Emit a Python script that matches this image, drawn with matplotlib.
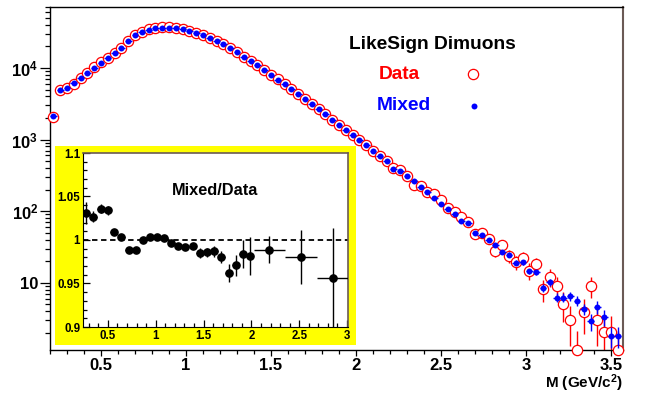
import numpy as np
import matplotlib
matplotlib.use("Agg")
import matplotlib.pyplot as plt
from matplotlib.ticker import (LogLocator, MultipleLocator, FuncFormatter,
                               NullFormatter)

plt.rcParams['font.family'] = ['Liberation Sans', 'DejaVu Sans']
plt.rcParams['font.weight'] = 'bold'
plt.rcParams['mathtext.fontset'] = 'custom'
plt.rcParams['mathtext.rm'] = 'Liberation Sans:bold'
plt.rcParams['mathtext.bf'] = 'Liberation Sans:bold'
plt.rcParams['mathtext.it'] = 'Liberation Sans:bold'

# ---- like-sign dimuon invariant mass spectra (0.04 GeV/c^2 bins) ----
mass = np.round(np.arange(0.22, 3.555, 0.04), 2)

mixed = [2110, 4990, 5320, 6250, 7240, 8610, 10120, 11900, 13800, 16000,
         19300, 23600, 28600, 31800, 34400, 35900, 36700, 36700, 35900, 34800,
         33000, 30900,
         28600, 26000, 23900, 21400, 18700, 16600, 14300, 12500, 10900, 9290,
         7980, 6880, 5920, 5040, 4290, 3650, 3100, 2640, 2250, 1860,
         1580, 1345, 1145, 975, 830, 684, 582, 500, 392, 359,
         305, 260, 217, 183, 154, 127, 108, 90, 74, 68, 50,
         47, 39, 34, 26.7, 24.8, 19, 19.4, 14.4, 14.0, 8.5,
         10.2, 6.2, 6.2, 6.5, 5.6, 4.3, 2.9, 4.6, 3.3, 1.83, 1.83]

data = [2050, 4850, 5170, 6050, 7150, 8560, 10150, 12000, 13800, 16000,
        19250, 23500, 28450, 31700, 34500, 36000, 36850, 36800, 35950, 34900,
        33200, 31100,
        28750, 26200, 24050, 21550, 18850, 16700, 14450, 12600, 11000, 9380,
        8060, 6950, 5990, 5110, 4330, 3720, 3180, 2700, 2280, 1890,
        1600, 1360, 1170, 990, 840, 700, 590, 505, 400, 378,
        310, 235, 222, 185, 175, 141, 111, 97, 82, 70, 48,
        50, 41, 28, 34, 23.5, 19.4, 22.3, 14.8, 18, 8.2,
        12.2, 9.1, 5.1, 3.06, 1.15, 3.95, 9.1, 3.06, 2.03, 2.03, 1.15]

data_err = [0] * 60 + [9, 8.4, 7, 7, 6.4, 5.3, 5.8, 4.8, 4.4, 4.7, 3.8, 4.2,
                       2.9, 3.5, 3.0, 2.3, 1.75, 1.0, 2.0, 3.0, 1.75, 1.4, 1.4, 1.0]
mixed_err = [0] * 60 + [3.0, 2.9, 2.5, 2.4, 2.2, 2.0, 1.8, 1.75, 1.5, 1.5, 1.35, 1.3,
                        1.0, 1.1, 0.9, 0.9, 0.9, 0.85, 0.75, 0.8, 0.95, 0.85, 0.6, 0.6]
half_bin = 0.02

# ---- Mixed/Data ratio ----
ratio_x = [0.274, 0.347, 0.423, 0.50, 0.563, 0.639, 0.719, 0.792, 0.869, 0.939,
           1.015, 1.088, 1.162, 1.238, 1.311, 1.388, 1.458, 1.534, 1.611, 1.684,
           1.764, 1.837, 1.910, 1.983, 2.189, 2.52, 2.85]
ratio_xerr = [0.037] * 24 + [0.166, 0.166, 0.166]
ratio_y = [1.031, 1.027, 1.036, 1.034, 1.0095, 1.003, 0.988, 0.989, 1.000, 1.003,
           1.003, 1.002, 0.997, 0.993, 0.992, 0.993, 0.985, 0.986, 0.987, 0.980,
           0.962, 0.971, 0.984, 0.982, 0.989, 0.980, 0.956]
ratio_err = [0.0125, 0.006, 0.0055, 0.005, 0.003, 0.003, 0.002, 0.002, 0.003, 0.002,
             0.002, 0.002, 0.002, 0.003, 0.003, 0.003, 0.006, 0.005, 0.006, 0.007,
             0.010, 0.012, 0.016, 0.022, 0.016, 0.031, 0.058]

W, H = 645, 393
FRAME2 = '#6b5a55'
LEG_SIZE = 13.8

fig = plt.figure(figsize=(W / 100, H / 100), dpi=100)

# ---------------- main panel ----------------
ax = fig.add_axes([50 / W, 1 - 350 / H, 573 / W, 343 / H])
ax.set_yscale('log')
ax.set_xlim(0.2, 3.57)
ax.set_ylim(1.15, 7.1e4)

ax.errorbar(mass, data, yerr=data_err, fmt='none', ecolor='#ff0000',
            elinewidth=1.0, capsize=0, zorder=2)
ax.plot(mass, data, linestyle='none', marker='o', markersize=7.4,
        markerfacecolor='white', markeredgecolor='#ff0000', markeredgewidth=0.9,
        zorder=3, clip_on=False)
ax.errorbar(mass, mixed, yerr=mixed_err, xerr=half_bin, fmt='none',
            ecolor='#0000ff', elinewidth=1.0, capsize=0, zorder=4)
ax.plot(mass, mixed, linestyle='none', marker='o', markersize=4.3,
        markerfacecolor='#0000ff', markeredgecolor='#0000ff', markeredgewidth=0,
        zorder=5, clip_on=False)

ax.xaxis.set_major_locator(MultipleLocator(0.5))
ax.xaxis.set_minor_locator(MultipleLocator(0.1))
ax.xaxis.set_major_formatter(FuncFormatter(lambda v, p: f'{v:g}'))
ax.yaxis.set_major_locator(LogLocator(base=10, numticks=10))
ax.yaxis.set_minor_locator(LogLocator(base=10, subs=np.arange(2, 10), numticks=20))
ax.yaxis.set_minor_formatter(NullFormatter())


def log_label(v, p):
    e = int(round(np.log10(v)))
    if e == 1:
        return '10'
    return r'$10^{%d}$' % e


ax.yaxis.set_major_formatter(FuncFormatter(log_label))
ax.tick_params(axis='both', which='both', direction='out', width=0.9,
               colors='black', labelsize=12)
ax.tick_params(axis='y', which='major', length=7.5, pad=1)
ax.tick_params(axis='y', which='minor', length=3.6)
ax.tick_params(axis='x', which='major', length=4.5, pad=1.5)
ax.tick_params(axis='x', which='minor', length=2.8)
for s in ('left', 'bottom', 'top'):
    ax.spines[s].set_color('black')
    ax.spines[s].set_linewidth(1.0)
ax.spines['right'].set_color(FRAME2)
ax.spines['right'].set_linewidth(1.5)

ax.text(1.0, -0.0955, r'M (GeV/c$^{2}$)', transform=ax.transAxes,
        ha='right', va='center', fontsize=11.0, fontweight='bold')

ax.text(0.668, 0.891, 'LikeSign Dimuons', transform=ax.transAxes,
        ha='center', va='center', fontsize=LEG_SIZE, fontweight='bold', color='black')
ax.text(0.574, 0.802, 'Data', transform=ax.transAxes,
        ha='left', va='center', fontsize=LEG_SIZE, fontweight='bold', color='#ff0000')
ax.text(0.571, 0.714, 'Mixed', transform=ax.transAxes,
        ha='left', va='center', fontsize=LEG_SIZE, fontweight='bold', color='#0000ff')
ax.plot([0.738], [0.805], transform=ax.transAxes, linestyle='none', marker='o',
        markersize=7.4, markerfacecolor='white', markeredgecolor='#ff0000',
        markeredgewidth=0.9)
ax.plot([0.740], [0.711], transform=ax.transAxes, linestyle='none', marker='o',
        markersize=4.3, markerfacecolor='#0000ff', markeredgewidth=0)

# ---------------- inset: ratio ----------------
pad = fig.add_axes([55 / W, 1 - 345 / H, 301 / W, 199 / H])
pad.set_facecolor('#ffff00')
pad.set_xticks([])
pad.set_yticks([])
for s in pad.spines.values():
    s.set_visible(False)

ins = fig.add_axes([83 / W, 1 - 327 / H, 265 / W, 174 / H])
ins.set_facecolor('white')
ins.set_xlim(0.24, 3.01)
ins.set_ylim(0.9, 1.1)
ins.axhline(1.0, color='black', linestyle=(0, (3, 2)), linewidth=1.3, zorder=1)
ins.errorbar(ratio_x, ratio_y, yerr=ratio_err, xerr=ratio_xerr, fmt='o',
             color='black', markersize=5.2, elinewidth=1.0, capsize=0, zorder=3)
ins.text(0.5, 0.785, 'Mixed/Data', transform=ins.transAxes, ha='center',
         va='center', fontsize=11.8, fontweight='bold')

ins.xaxis.set_major_locator(MultipleLocator(0.5))
ins.xaxis.set_minor_locator(MultipleLocator(0.1))
ins.xaxis.set_major_formatter(FuncFormatter(lambda v, p: f'{v:g}'))
ins.yaxis.set_major_locator(MultipleLocator(0.05))
ins.yaxis.set_minor_locator(MultipleLocator(0.01))
ins.yaxis.set_major_formatter(FuncFormatter(lambda v, p: f'{v:g}'))
ins.tick_params(axis='both', which='both', direction='in', width=0.9,
                labelsize=8.3, colors='black')
ins.tick_params(axis='both', which='major', length=5, pad=2)
ins.tick_params(axis='both', which='minor', length=2.8)
for s in ('left', 'bottom'):
    ins.spines[s].set_color('black')
for s in ('top', 'right'):
    ins.spines[s].set_color(FRAME2)
    ins.spines[s].set_linewidth(1.2)

fig.savefig('out.png', dpi=100)
